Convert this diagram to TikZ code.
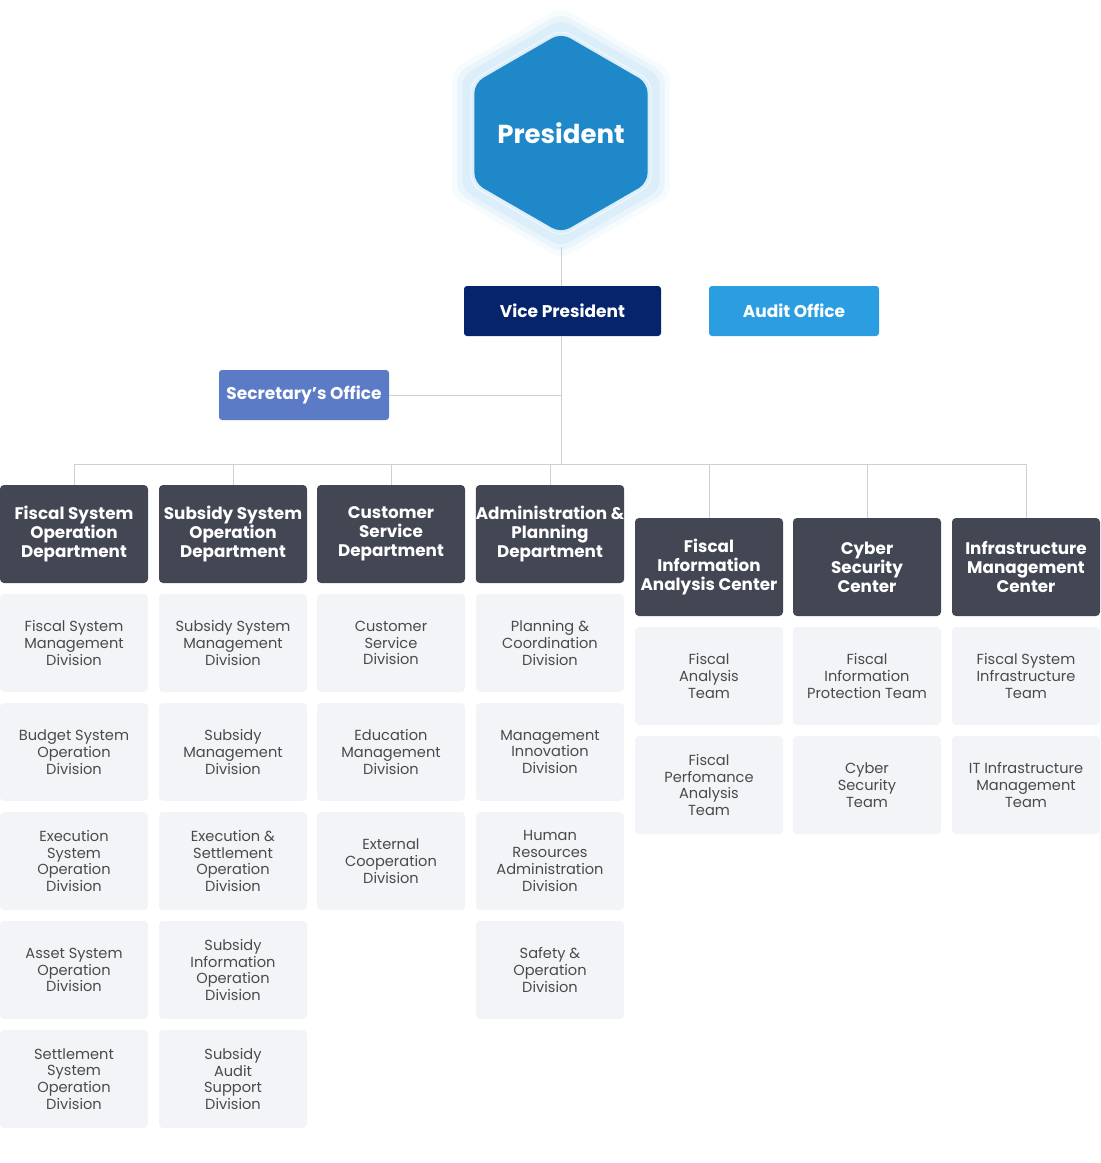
\documentclass[tikz,border=0pt]{standalone}
\usepackage{fontspec}
\setmainfont{Poppins}
\usetikzlibrary{shapes.geometric}

\definecolor{hexblue}{HTML}{1F88C8}
\definecolor{hexpale}{HTML}{DCEEF9}
\definecolor{vpnavy}{HTML}{06246C}
\definecolor{auditblue}{HTML}{2A9EE0}
\definecolor{secblue}{HTML}{5B7BC6}
\definecolor{deptgray}{HTML}{434753}
\definecolor{unitbg}{HTML}{F3F4F8}
\definecolor{unittext}{HTML}{4A4A4A}
\definecolor{linegray}{HTML}{CFCFCF}

\tikzset{
	hexa/.style={regular polygon, regular polygon sides=6, shape border rotate=30, rounded corners=5pt, inner sep=0pt},
	office/.style={rectangle, rounded corners=1.5pt, text=white, font=\bfseries\fontsize{8.5}{9.5}\selectfont, minimum height=25pt, inner sep=0pt},
	dept/.style={rectangle, rounded corners=2pt, fill=deptgray, text=white, align=center, font=\bfseries\fontsize{8.4}{9.5}\selectfont, minimum width=74pt, minimum height=49pt, inner sep=0pt},
	unit/.style={rectangle, rounded corners=2pt, fill=unitbg, text=unittext, align=center, font=\fontsize{7.3}{8.4}\selectfont, minimum width=74pt, minimum height=49pt, inner sep=0pt},
	link/.style={draw=linegray, line width=0.5pt}
}

\begin{document}
\begin{tikzpicture}[x=0.5pt,y=-0.5pt]
	\useasboundingbox (0,0) rectangle (1100,1163);
	
	% president hexagon with glow
	\node[hexa, fill=hexpale, opacity=0.25, minimum size=126pt] (glowa) at (561,133) {};
	\node[hexa, fill=hexpale, opacity=0.5, minimum size=120pt] (glowb) at (561,133) {};
	\node[hexa, fill=hexpale, minimum size=114pt] (glow) at (561,133) {};
	\node[hexa, fill=hexblue, minimum size=100pt] (pres) at (561,133) {};
	\node[hexa, draw=white, draw opacity=0.6, line width=0.5pt, minimum size=88pt, text=white, font=\bfseries\fontsize{13}{15}\selectfont] (presin) at (561,133) {President};
	
	% offices
	\node[office, fill=vpnavy, minimum width=98.5pt] (vp) at (562.5,311) {Vice President};
	\node[office, fill=auditblue, minimum width=85pt] (audit) at (794,311) {Audit Office};
	\node[office, fill=secblue, minimum width=85pt] (sec) at (304,395) {Secretary’s Office};
	
	% departments
	\node[dept] (d1) at (74,534)  {Fiscal System\\Operation\\Department};
	\node[dept] (d2) at (233,534) {Subsidy System\\Operation\\Department};
	\node[dept] (d3) at (391,534) {Customer\\Service\\Department};
	\node[dept] (d4) at (550,534) {Administration \&\\Planning\\Department};
	\node[dept] (d5) at (709,567) {Fiscal\\Information\\Analysis Center};
	\node[dept] (d6) at (867,567) {Cyber\\Security\\Center};
	\node[dept] (d7) at (1026,567) {Infrastructure\\Management\\Center};
	
	% divisions and teams
	\node[unit] (u11) at (74,643)  {Fiscal System\\Management\\Division};
	\node[unit] (u12) at (74,752)  {Budget System\\Operation\\Division};
	\node[unit] (u13) at (74,861)  {Execution\\System\\Operation\\Division};
	\node[unit] (u14) at (74,970)  {Asset System\\Operation\\Division};
	\node[unit] (u15) at (74,1079) {Settlement\\System\\Operation\\Division};
	
	\node[unit] (u21) at (233,643)  {Subsidy System\\Management\\Division};
	\node[unit] (u22) at (233,752)  {Subsidy\\Management\\Division};
	\node[unit] (u23) at (233,861)  {Execution \&\\Settlement\\Operation\\Division};
	\node[unit] (u24) at (233,970)  {Subsidy\\Information\\Operation\\Division};
	\node[unit] (u25) at (233,1079) {Subsidy\\Audit\\Support\\Division};
	
	\node[unit] (u31) at (391,643) {Customer\\Service\\Division};
	\node[unit] (u32) at (391,752) {Education\\Management\\Division};
	\node[unit] (u33) at (391,861) {External\\Cooperation\\Division};
	
	\node[unit] (u41) at (550,643) {Planning \&\\Coordination\\Division};
	\node[unit] (u42) at (550,752) {Management\\Innovation\\Division};
	\node[unit] (u43) at (550,861) {Human\\Resources\\Administration\\Division};
	\node[unit] (u44) at (550,970) {Safety \&\\Operation\\Division};
	
	\node[unit] (u51) at (709,676) {Fiscal\\Analysis\\Team};
	\node[unit] (u52) at (709,785) {Fiscal\\Perfomance\\Analysis\\Team};
	\node[unit] (u61) at (867,676) {Fiscal\\Information\\Protection Team};
	\node[unit] (u62) at (867,785) {Cyber\\Security\\Team};
	\node[unit] (u71) at (1026,676) {Fiscal System\\Infrastructure\\Team};
	\node[unit] (u72) at (1026,785) {IT Infrastructure\\Management\\Team};
	
	% connectors
	\coordinate (bus) at (561,464);
	\draw[link] (glow.south) -- (vp.north -| glow.south);
	\draw[link] (vp.south -| bus) -- (bus);
	\draw[link] (sec.east) -- (sec.east -| bus);
	\draw[link] (d1.north |- bus) -- (d7.north |- bus);
	\foreach \d in {d1,d2,d3,d4,d5,d6,d7}
		\draw[link] (\d.north |- bus) -- (\d.north);
\end{tikzpicture}
\end{document}
